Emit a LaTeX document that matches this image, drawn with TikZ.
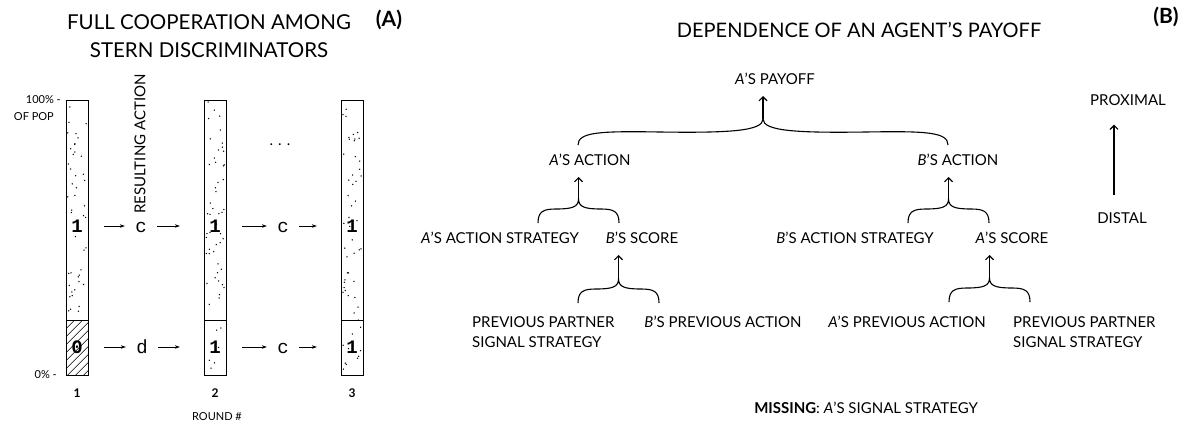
\documentclass[tikz,border=0pt]{standalone}
\usepackage{fontspec}
\setmainfont{Lato}
\setmonofont{Liberation Mono}
\usetikzlibrary{arrows.meta}

\begin{document}
\begin{tikzpicture}[x=1pt,y=-1pt,
    curly/.style={line width=1.1pt}]
  \useasboundingbox (0,0) rectangle (1190,426);

  % (A) stern discriminators
  \node[font=\fontsize{20.5}{28}\selectfont, align=center] (titleA) at (209,36)
    {FULL COOPERATION AMONG\\STERN DISCRIMINATORS};
  \node[font=\bfseries\fontsize{21}{24}\selectfont] (tagA) at (389,20) {(A)};

  \foreach \x in {66,204,341} {
    \draw[line width=0.6pt] (\x,100) rectangle ++(22,275.7);
    \draw[line width=0.6pt] (\x,320.7) -- ++(22,0);
  }

  \begin{scope}
    \clip (66,320.7) rectangle (88,375.7);
    \foreach \k in {0,...,10}
      \draw[line width=0.5pt] ({11+\k*8},375.7) -- ++(55,-55);
  \end{scope}

  \pgfmathsetseed{42}
  \foreach \i in {1,...,45}
    \fill ({67.5+19*rnd},{101.5+217*rnd}) circle (0.75);
  \foreach \x in {204,341}
    \foreach \i in {1,...,55}
      \fill ({\x+1.5+19*rnd},{101.5+272*rnd}) circle (0.75);

  \begin{scope}[every node/.style={font=\ttfamily\bfseries\fontsize{19}{19}\selectfont,
      minimum width=22pt, inner sep=0pt, text height=12pt, text depth=0pt}]
    \node (u1) at (77,226) {1};
    \node (u2) at (215,226) {1};
    \node (u3) at (352,226) {1};
    \node (l1) at (77,347) {0};
    \node (l2) at (215,347) {1};
    \node (l3) at (352,347) {1};
  \end{scope}

  \begin{scope}[every node/.style={font=\ttfamily\fontsize{19}{19}\selectfont,
      minimum width=32pt, inner sep=0pt, text height=12pt, text depth=0pt}]
    \node (uc1) at (141,226) {c};
    \node (uc2) at (283,226) {c};
    \node (ld1) at (142,347) {d};
    \node (lc2) at (283,347) {c};
  \end{scope}

  \begin{scope}[every edge/.style={draw, line width=0.6pt,
      -{Stealth[length=5pt,width=3.5pt]}}]
    \path (u1)  edge[shorten <=16pt] (uc1);
    \path (uc1) edge[shorten >=24pt] (u2);
    \path (u2)  edge[shorten <=16pt] (uc2);
    \path (uc2) edge[shorten >=24pt] (u3);
    \path (l1)  edge[shorten <=16pt] (ld1);
    \path (ld1) edge[shorten >=24pt] (l2);
    \path (l2)  edge[shorten <=16pt] (lc2);
    \path (lc2) edge[shorten >=24pt] (l3);
  \end{scope}

  \begin{scope}[every node/.style={font=\fontsize{11}{13}\selectfont, inner sep=0pt}]
    \node[anchor=east] (full) at (61,100) {100\% -};
    \node[anchor=east] (pop)  at (54,117) {OF POP};
    \node[anchor=east] (zero) at (57,375) {0\% -};
    \node[font=\bfseries\fontsize{12}{14}\selectfont] (r1) at (77,393) {1};
    \node[font=\bfseries\fontsize{12}{14}\selectfont] (r2) at (215,393) {2};
    \node[font=\bfseries\fontsize{12}{14}\selectfont] (r3) at (352,393) {3};
    \node (round) at (217,417) {ROUND \#};
  \end{scope}

  \node[rotate=90, font=\fontsize{15}{18}\selectfont, inner sep=0pt] (result) at (140,144)
    {RESULTING ACTION};
  \node[font=\fontsize{15}{18}\selectfont] (more) at (280,145) {. . .};

  % (B) dependence of the payoff
  \node[font=\fontsize{20}{24}\selectfont] (titleB) at (859,30)
    {DEPENDENCE OF AN AGENT'S PAYOFF};
  \node[font=\bfseries\fontsize{21}{24}\selectfont] (tagB) at (1166,17) {(B)};

  \begin{scope}[every node/.style={font=\fontsize{15}{20}\selectfont, inner sep=0pt}]
    \node (pay)    at (775,79)  {\textit{A}'S PAYOFF};
    \node (actA)   at (590,160) {\textit{A}'S ACTION};
    \node (actB)   at (958,160) {\textit{B}'S ACTION};
    \node (stratA) at (500,238) {\textit{A}'S ACTION STRATEGY};
    \node (scoreB) at (642,238) {\textit{B}'S SCORE};
    \node (stratB) at (855,238) {\textit{B}'S ACTION STRATEGY};
    \node (scoreA) at (1012,238) {\textit{A}'S SCORE};
    \node[anchor=west, align=left] (sigL) at (472,332) {PREVIOUS PARTNER\\SIGNAL STRATEGY};
    \node (prevB)  at (723,322) {\textit{B}'S PREVIOUS ACTION};
    \node (prevA)  at (907,322) {\textit{A}'S PREVIOUS ACTION};
    \node[anchor=west, align=left] (sigR) at (1013,332) {PREVIOUS PARTNER\\SIGNAL STRATEGY};
    \node (prox)   at (1128,100) {PROXIMAL};
    \node (dist)   at (1122,218) {DISTAL};
    \node (miss)   at (866,408) {\textbf{MISSING}: \textit{A}'S SIGNAL STRATEGY};
  \end{scope}

  \coordinate (cpay)    at (763,119);
  \coordinate (cactA)   at (578.5,199);
  \coordinate (cactB)   at (948.5,199);
  \coordinate (cscoreB) at (618.5,279);
  \coordinate (cscoreA) at (989.5,278);

  \draw[curly] (578,145) .. controls (578,132) and (600,131) .. (660,132)
    .. controls (730,133) and (763,131) .. (cpay)
    .. controls (763,131) and (796,133) .. (866,132)
    .. controls (926,131) and (948,132) .. (948,145);
  \foreach \xa/\yb/\c in {538/223/cactA, 908/223/cactB, 578/303/cscoreB, 949/302/cscoreA}
    \draw[curly] (\xa,\yb) .. controls (\xa,{\yb-12}) and ({\xa+6},{\yb-14}) .. ({\xa+18},{\yb-14})
      .. controls ({\xa+34},{\yb-14}) and ({\xa+40.5},{\yb-16}) .. (\c)
      .. controls ({\xa+40.5},{\yb-16}) and ({\xa+47},{\yb-14}) .. ({\xa+63},{\yb-14})
      .. controls ({\xa+75},{\yb-14}) and ({\xa+81},{\yb-12}) .. ({\xa+81},\yb);

  \begin{scope}[every edge/.style={draw, line width=1.1pt,
      -{Straight Barb[length=4pt,width=8pt]}, shorten >=11pt}]
    \path (cpay)    edge (cpay |- pay.south);
    \path (cactA)   edge (cactA |- actA.south);
    \path (cactB)   edge (cactB |- actB.south);
    \path (cscoreB) edge (cscoreB |- scoreB.south);
    \path (cscoreA) edge (cscoreA |- scoreA.south);
    \path ([xshift=-8pt]dist.north) edge[shorten <=17pt, shorten >=19pt] ([xshift=-14pt]prox.south);
  \end{scope}

\end{tikzpicture}
\end{document}
